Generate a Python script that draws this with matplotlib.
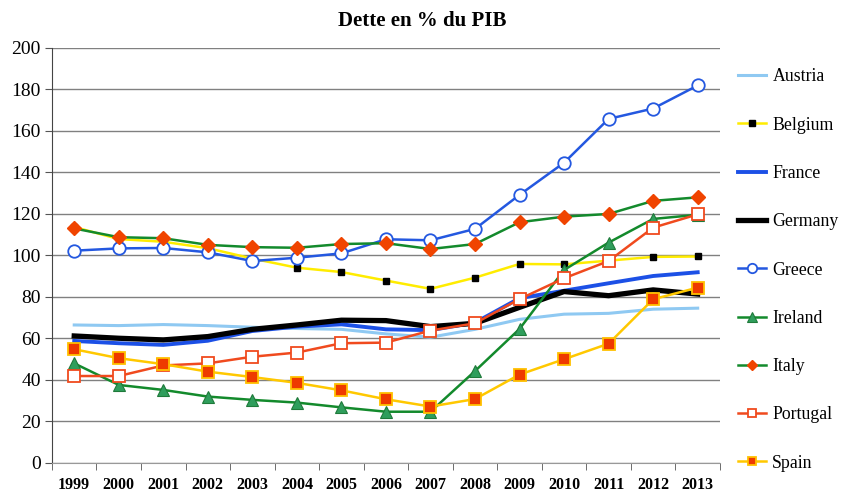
import matplotlib as mpl
mpl.use('Agg')
import matplotlib.pyplot as plt
from matplotlib.ticker import FixedLocator, MultipleLocator
import numpy as np

years = [str(y) for y in range(1999, 2014)]

austria = [66.5, 66.2, 66.7, 66.2, 65.4, 64.8, 64.4, 62.2, 60.6, 64.4, 69.2, 71.7, 72.1, 74.1, 74.6]
belgium = [113.7, 107.9, 106.6, 103.5, 98.5, 94.1, 92.0, 87.9, 83.9, 89.3, 95.9, 95.7, 97.5, 99.3, 99.5]
france = [58.8, 57.7, 56.9, 58.9, 63.6, 65.7, 66.8, 64.4, 64.0, 67.6, 79.4, 83.0, 86.6, 90.1, 91.9]
germany = [61.2, 60.1, 59.3, 60.9, 64.4, 66.5, 68.8, 68.6, 65.7, 67.3, 75.0, 82.6, 80.6, 83.4, 81.4]
greece = [102.3, 103.4, 103.6, 101.5, 97.3, 98.9, 101.0, 107.8, 107.3, 112.8, 129.2, 144.7, 165.8, 170.8, 181.9]
ireland = [48.0, 37.6, 35.2, 32.0, 30.4, 29.1, 26.8, 24.7, 24.7, 44.3, 64.6, 93.0, 106.2, 117.6, 119.6]
italy = [113.0, 108.8, 108.3, 105.1, 104.0, 103.7, 105.5, 105.9, 103.1, 105.5, 116.0, 118.7, 120.0, 126.3, 128.0]
portugal = [41.9, 41.9, 47.0, 48.0, 51.2, 53.2, 57.7, 58.0, 63.8, 67.3, 79.0, 89.0, 97.3, 113.4, 119.8]
spain = [54.8, 50.5, 47.6, 44.0, 41.4, 38.6, 35.0, 30.7, 27.2, 30.8, 42.6, 50.0, 57.5, 78.9, 84.5]

plt.rcParams['font.family'] = ['Liberation Serif', 'DejaVu Serif']

fig = plt.figure(figsize=(8.45, 4.94), dpi=100)
ax = fig.add_axes([0.0615, 0.0628, 0.7905, 0.8402])

xs = np.arange(len(years))

ax.plot(xs, austria, color='#8fc9f2', lw=2.2, label='Austria')
ax.plot(xs, belgium, color='#ffec00', lw=1.8, marker='s', ms=5, mfc='black', mec='black', label='Belgium')
ax.plot(xs, france, color='#1c50e6', lw=2.8, label='France')
ax.plot(xs, germany, color='black', lw=3.8, label='Germany')
ax.plot(xs, greece, color='#2458e0', lw=1.8, marker='o', ms=9, mfc='white', mec='#2458e0', mew=1.3, label='Greece')
ax.plot(xs, ireland, color='#138a2c', lw=1.8, marker='^', ms=9, mfc='#2f9e5c', mec='#1f7a3a', mew=0.8, label='Ireland')
ax.plot(xs, italy, color='#138a2c', lw=1.8, marker='D', ms=7, mfc='#f04400', mec='#f04400', label='Italy')
ax.plot(xs, portugal, color='#f04a1e', lw=1.8, marker='s', ms=8, mfc='white', mec='#f04a1e', mew=1.3, label='Portugal')
ax.plot(xs, spain, color='#ffc800', lw=1.8, marker='s', ms=8, mfc='#ee3a00', mec='#ffc000', mew=1.3, label='Spain')

ax.set_xlim(-0.5, len(years) - 0.5)
ax.set_ylim(0, 200)
ax.yaxis.set_major_locator(MultipleLocator(20))
ax.grid(axis='y', color='#808080', lw=1.0)
ax.set_axisbelow(True)

ax.set_xticks(xs)
ax.set_xticklabels(years, fontweight='bold', fontsize=11.5)
ax.xaxis.set_minor_locator(FixedLocator(np.arange(-0.5, len(years), 1)))
ax.tick_params(axis='x', which='major', length=0, pad=10)
ax.tick_params(axis='x', which='minor', length=5, color='#555555')
ax.tick_params(axis='y', length=5, labelsize=14, pad=3, color='#555555')

for s in ['top', 'right']:
    ax.spines[s].set_visible(False)
ax.spines['left'].set_color('#444444')
ax.spines['bottom'].set_color('#999999')

fig.suptitle('Dette en % du PIB', fontsize=15, fontweight='bold', y=0.978)

fig.legend(loc='upper left', bbox_to_anchor=(0.865, 0.876), frameon=False,
           fontsize=12.8, labelspacing=1.76, handlelength=1.6, handletextpad=0.33,
           markerscale=0.75, borderaxespad=0.0)

fig.savefig('out.png', dpi=100)
